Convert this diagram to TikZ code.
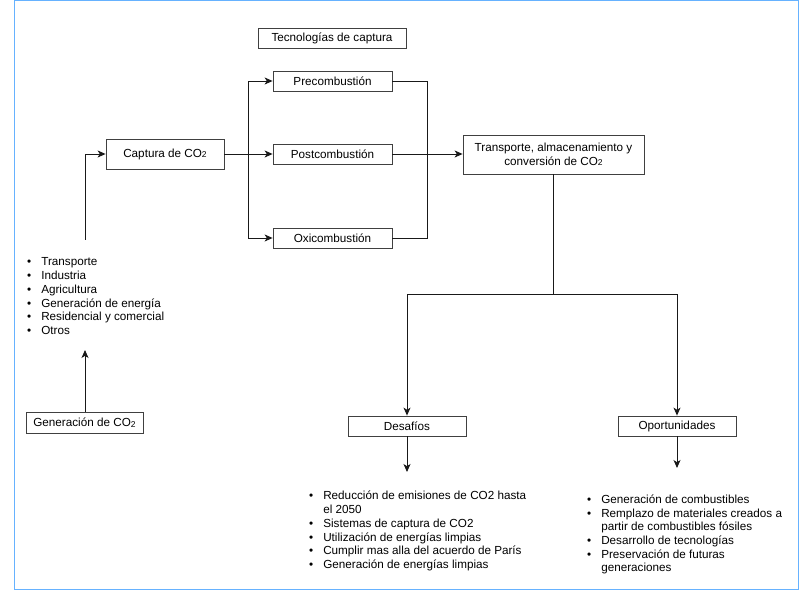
\documentclass[tikz,border=0pt]{standalone}
\usepackage{fontspec}
\setmainfont{Liberation Sans}
\usetikzlibrary{arrows.meta}
\definecolor{frameblue}{RGB}{102,178,255}
\newcommand\dos{\raisebox{-0.8pt}{\fontsize{8.5}{8.5}\selectfont 2}}
\begin{document}
\begin{tikzpicture}[x=1pt,y=-1pt,
 box/.style={draw=black!75, line width=0.8pt, fill=white, inner sep=0pt, align=center, font=\fontsize{11.7}{13.5}\selectfont},
 con/.style={draw=black!90, line width=0.9pt},
 arr/.style={con, -{Stealth[length=8pt,width=7pt,inset=2.2pt]}},
 lista/.style={inner sep=0pt, anchor=base west, font=\fontsize{11.7}{13.7}\selectfont}]

\useasboundingbox (0,0) rectangle (801,601);
\draw[frameblue, line width=0.8pt] (14,0.5) rectangle (798,589);

% boxes
\node[box, minimum width=148pt, minimum height=20pt] (tec) at (332,38) {Tecnologías de captura};
\node[box, minimum width=119pt, minimum height=20pt] (pre) at (332.5,81) {Precombustión};
\node[box, minimum width=119pt, minimum height=20pt] (post) at (332.5,154) {Postcombustión};
\node[box, minimum width=119pt, minimum height=20pt] (oxi) at (332.5,238) {Oxicombustión};
\node[box, minimum width=118pt, minimum height=30pt] (cap) at (165,154) {Captura de CO\dos};
\node[box, minimum width=181pt, minimum height=39pt] (trans) at (553.5,154.5) {Transporte, almacenamiento y\\conversión de CO\dos};
\node[box, minimum width=118pt, minimum height=20pt] (des) at (407,426) {Desafíos};
\node[box, minimum width=118pt, minimum height=20pt] (opo) at (677,426) {Oportunidades};
\node[box, minimum width=117pt, minimum height=21pt] (gen) at (84.5,422.5) {Generación de CO\dos};

% lists
\node[lista] (listA) at (27,266) {\begin{tabular}[t]{@{}l@{\hspace{10pt}}l@{}}
•& Transporte\\
•& Industria\\
•& Agricultura\\
•& Generación de energía\\
•& Residencial y comercial\\
•& Otros
\end{tabular}};
\node[lista] (listB) at (309,500) {\begin{tabular}[t]{@{}l@{\hspace{10pt}}l@{}}
•& Reducción de emisiones de CO2 hasta\\
 & el 2050\\
•& Sistemas de captura de CO2\\
•& Utilización de energías limpias\\
•& Cumplir mas alla del acuerdo de París\\
•& Generación de energías limpias
\end{tabular}};
\node[lista] (listC) at (587,503.5) {\begin{tabular}[t]{@{}l@{\hspace{10pt}}l@{}}
•& Generación de combustibles\\
•& Remplazo de materiales creados a\\
 & partir de combustibles fósiles\\
•& Desarrollo de tecnologías\\
•& Preservación de futuras\\
 & generaciones
\end{tabular}};

% coordinates
\coordinate (split) at (248,154);
\coordinate (join) at (427,81);
\coordinate (branch) at (553.5,294);
\coordinate (srcA) at (85,240);
\coordinate (tipA) at (85,350);
\coordinate (tipB) at (407,472);
\coordinate (tipC) at (677,468);

% connectors
\draw[arr] (srcA) |- (cap.west);
\draw[arr] (gen.north -| tipA) -- (tipA);
\draw[arr] (cap.east) -- (post.west);
\draw[arr] (cap.east) -- (split) |- (pre.west);
\draw[arr] (cap.east) -- (split) |- (oxi.west);
\draw[con] (pre.east) -- (join) |- (oxi.east);
\draw[arr] (post.east) -- (post.east -| trans.west);
\draw[arr] (trans.south) -- (branch) -| (des.north);
\draw[arr] (trans.south) -- (branch) -| (opo.north);
\draw[arr] (des.south) -- (tipB);
\draw[arr] (opo.south) -- (tipC);
\end{tikzpicture}
\end{document}
